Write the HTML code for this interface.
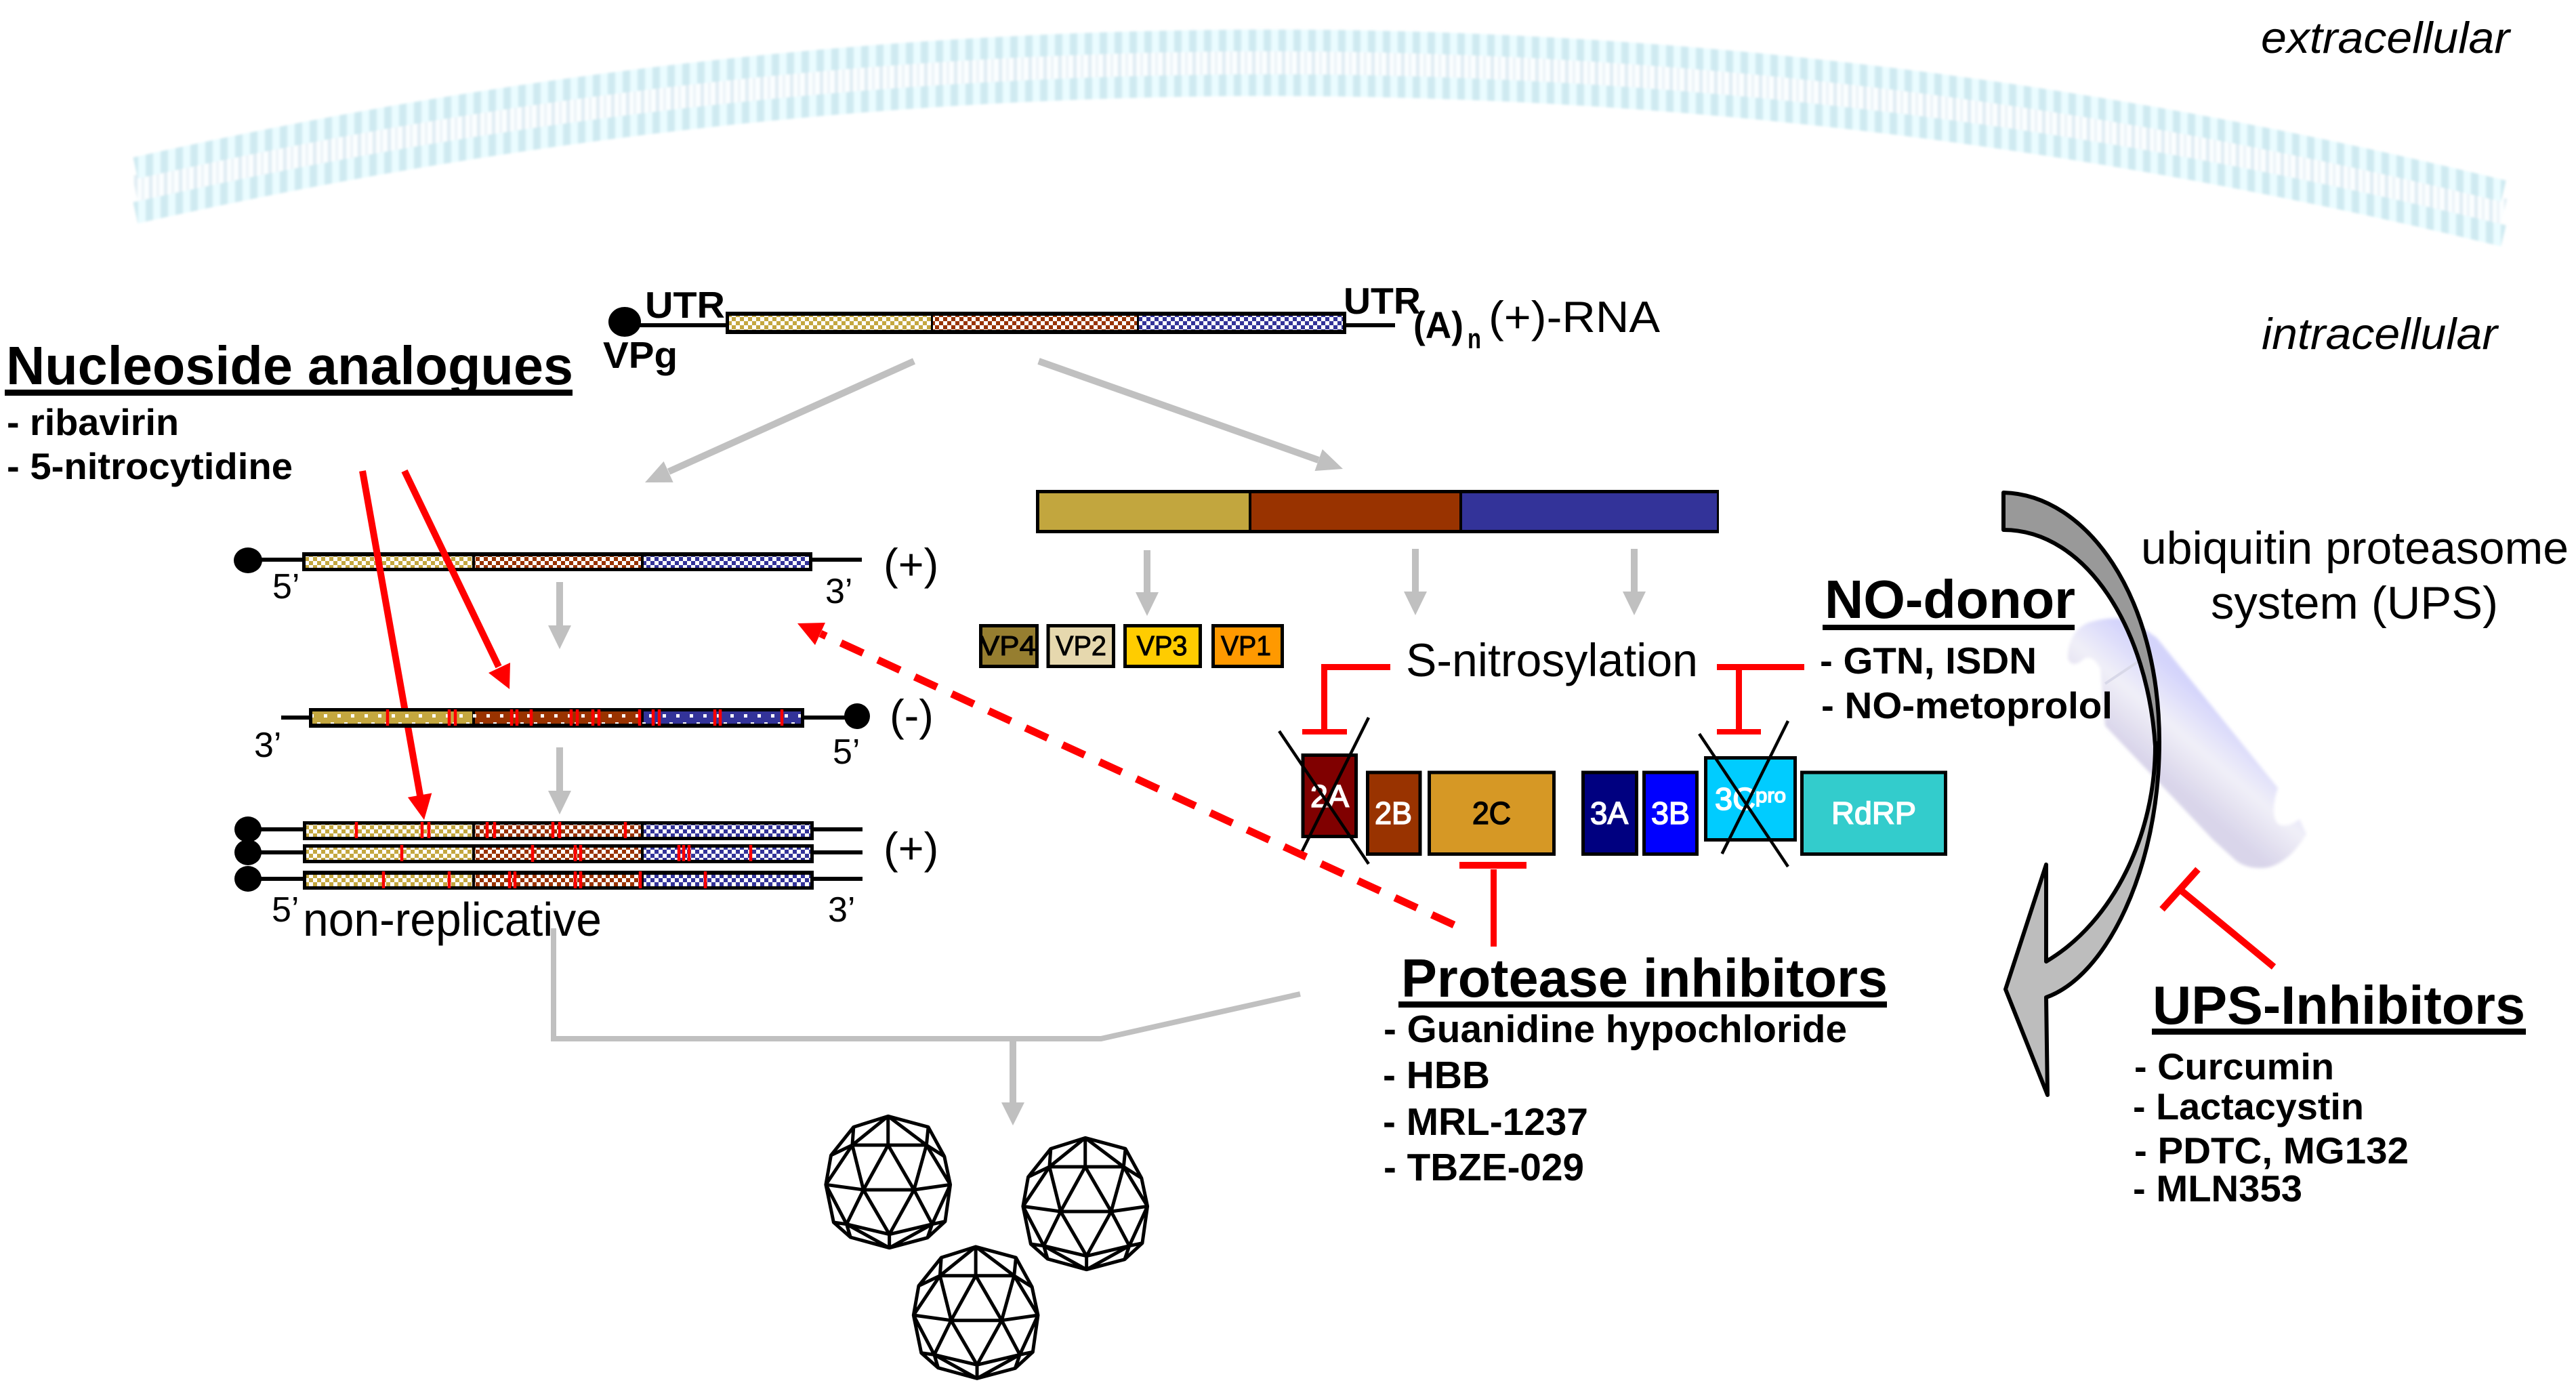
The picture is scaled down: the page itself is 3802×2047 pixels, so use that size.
<!DOCTYPE html>
<html><head><meta charset="utf-8">
<style>
html,body{margin:0;padding:0;background:#fff}
svg{display:block}
text{font-family:"Liberation Sans",Arial,sans-serif;fill:#000}
.b{font-weight:bold}
.i{font-style:italic}
.w{fill:#fff}
.m{stroke:#000;stroke-width:1}
.mw{stroke:#fff;stroke-width:1.6}
.mb{stroke:#000;stroke-width:1.6}
</style></head><body>
<svg xmlns="http://www.w3.org/2000/svg" width="3802" height="2047" viewBox="0 0 3802 2047">
<defs>
<pattern id="g" width="12" height="12" patternUnits="userSpaceOnUse"><rect width="12" height="12" fill="#fff"/><rect width="6" height="6" fill="#c4a73f"/><rect x="6" y="6" width="6" height="6" fill="#c4a73f"/></pattern>
<pattern id="r" width="12" height="12" patternUnits="userSpaceOnUse"><rect width="12" height="12" fill="#fff"/><rect width="6" height="6" fill="#993300"/><rect x="6" y="6" width="6" height="6" fill="#993300"/></pattern>
<pattern id="u" width="12" height="12" patternUnits="userSpaceOnUse"><rect width="12" height="12" fill="#fff"/><rect width="6" height="6" fill="#333399"/><rect x="6" y="6" width="6" height="6" fill="#333399"/></pattern>
<pattern id="d" x="456" y="1050" width="20" height="24" patternUnits="userSpaceOnUse"><rect x="2" y="4" width="5" height="5" fill="#fff"/><rect x="12" y="16" width="5" height="5" fill="#fff"/></pattern>
<pattern id="hd" width="22" height="400" patternUnits="userSpaceOnUse"><rect width="22" height="400" fill="#cfeaf1"/><rect x="6" width="11" height="400" fill="#eafcff"/></pattern>
<pattern id="tl" width="22" height="400" patternUnits="userSpaceOnUse"><rect width="22" height="400" fill="#fbfeff"/><rect x="0" width="5" height="400" fill="#dfecf3"/><rect x="11" width="4" height="400" fill="#ebf3f8"/></pattern>
<linearGradient id="pg" gradientUnits="userSpaceOnUse" x1="3270" y1="1040" x2="3185" y2="1140"><stop offset="0" stop-color="#d4d4fb"/><stop offset=".5" stop-color="#f0eff8"/><stop offset="1" stop-color="#d9d5ea"/></linearGradient>
<filter id="bl" x="-5%" y="-20%" width="110%" height="140%"><feGaussianBlur stdDeviation="1.8"/></filter>
<filter id="bp" x="-5%" y="-5%" width="110%" height="110%"><feGaussianBlur stdDeviation="2.5"/></filter>
<g id="ico" transform="translate(1150,1620) scale(.38270,.33333)" fill="none" stroke="#000" stroke-width="5" stroke-linejoin="round">
<path vector-effect="non-scaling-stroke" d="M420 82L575 130L637 260L660 385L640 548L572 620L425 665L275 618L210 552L180 385L200 255L287 130ZM420 82V210M420 82L282 210M420 82L568 210M282 210H568M287 130L282 210M575 130L568 210M282 210L200 255M568 210L637 260M282 210L180 385M568 210L660 385M282 210L325 408M568 210L520 408M420 210L325 408M420 210L520 408M325 408H520M180 385L325 408M660 385L520 408M180 385L260 560M660 385L590 560M325 408L260 560M520 408L590 560M325 408L425 605M520 408L425 605M260 560L425 605L590 560M425 605V665M260 560L210 552M590 560L640 548M260 560L275 618M590 560L572 620M260 560L425 665M590 560L425 665"/>
</g>
</defs>
<rect width="3802" height="2047" fill="#fff"/>

<!-- membrane -->
<g fill="none" filter="url(#bl)">
<path d="M200 281Q1947 -112 3695 315" stroke="url(#tl)" stroke-width="44"/>
<path d="M200 248Q1947 -145 3695 282" stroke="url(#hd)" stroke-width="32"/>
<path d="M200 314Q1947 -79 3695 348" stroke="url(#hd)" stroke-width="32"/>
</g>

<!-- proteasome -->
<path d="M3052 971C3052 945 3064 925 3085 918C3110 911 3135 910 3150 918L3183 941L3362 1163C3356 1180 3352 1205 3362 1216C3372 1222 3385 1216 3394 1209L3404 1231C3390 1255 3368 1278 3342 1281C3325 1282 3312 1279 3300 1270L3266 1239L3107 1071L3100 987C3094 975 3086 968 3076 972C3068 980 3056 985 3052 971Z" fill="url(#pg)" filter="url(#bp)"/>
<path d="M3107 1009L3158 975" stroke="#d8d8e8" stroke-width="4" fill="none"/>

<!-- curved arrow -->
<path d="M3181 1101C3181 1230 3120 1360 3020 1419L3020 1276L2960 1460L3022 1616L3020 1472C3110 1440 3187 1280 3187 1095Z" fill="#bdbdbd" stroke="#000" stroke-width="6" stroke-linejoin="round"/>
<path d="M2957 727C3080 730 3187 880 3187 1095L3181 1101C3170 930 3080 782 2957 782Z" fill="#999" stroke="#000" stroke-width="6" stroke-linejoin="round"/>

<!-- top RNA -->
<ellipse cx="922" cy="475" rx="24" ry="22"/>
<rect x="940" y="477" width="135" height="6"/>
<rect x="1985" y="477" width="74" height="6"/>
<rect x="1071" y="460" width="916" height="33"/>
<rect x="1076" y="466" width="298" height="21" fill="url(#g)"/>
<rect x="1377" y="466" width="301" height="21" fill="url(#r)"/>
<rect x="1681" y="466" width="301" height="21" fill="url(#u)"/>
<text class="b" x="952" y="469" font-size="55" textLength="118" lengthAdjust="spacingAndGlyphs">UTR</text>
<text class="b" x="890" y="543" font-size="55" textLength="110" lengthAdjust="spacingAndGlyphs">VPg</text>
<text class="b" x="1983" y="463" font-size="55" textLength="114" lengthAdjust="spacingAndGlyphs">UTR</text>
<text class="b" x="2086" y="499" font-size="56" textLength="74" lengthAdjust="spacingAndGlyphs">(A)</text>
<text class="b" x="2166" y="514" font-size="42" textLength="20" lengthAdjust="spacingAndGlyphs">n</text>
<text x="2197" y="490" font-size="65" textLength="253" lengthAdjust="spacingAndGlyphs">(+)-RNA</text>

<!-- grey diagonal arrows -->
<path d="M1349 533L987 696" stroke="#c0c0c0" stroke-width="10"/>
<polygon points="952,712 993.6,711.9 979.6,680.9" fill="#c0c0c0"/>
<path d="M1533 533L1946 679" stroke="#c0c0c0" stroke-width="10"/>
<polygon points="1982,692 1940.5,695 1951.8,663" fill="#c0c0c0"/>

<!-- strand 1 -->
<ellipse cx="366" cy="827" rx="21" ry="19"/>
<rect x="380" y="823" width="70" height="6"/><rect x="1195" y="823" width="77" height="6"/>
<rect x="446" y="815" width="753" height="28"/>
<rect x="451" y="821" width="246" height="17" fill="url(#g)"/>
<rect x="701" y="821" width="245" height="17" fill="url(#r)"/>
<rect x="950" y="821" width="244" height="17" fill="url(#u)"/>
<text x="402" y="883" font-size="52">5’</text>
<text x="1218" y="890" font-size="52">3’</text>
<text x="1304" y="855" font-size="65">(+)</text>

<!-- red arrows (under strand 2) -->
<path d="M535 695L620 1174" stroke="#f00" stroke-width="10"/>
<polygon points="626,1210 637.3,1170.5 601.9,1176.7" fill="#f00"/>
<path d="M597 695L736 984" stroke="#f00" stroke-width="10"/>
<polygon points="752,1017 753,978 721,993" fill="#f00"/>

<!-- strand 2 -->
<rect x="415" y="1056" width="45" height="6"/><rect x="1185" y="1056" width="65" height="6"/>
<ellipse cx="1265" cy="1057" rx="19" ry="19"/>
<rect x="456" y="1045" width="731" height="29"/>
<rect x="461" y="1050" width="236" height="18" fill="#c4a73f"/>
<rect x="701" y="1050" width="245" height="18" fill="#993300"/>
<rect x="950" y="1050" width="232" height="18" fill="#333399"/>
<rect x="461" y="1050" width="721" height="18" fill="url(#d)"/>
<g stroke="#f00" stroke-width="4.5">
<path d="M572 1047V1071M663 1047V1071M672 1047V1071M755 1047V1071M763 1047V1071M784 1047V1071M843 1047V1071M852 1047V1071M875 1047V1071M884 1047V1071M944 1047V1071M964 1047V1071M973 1047V1071M1055 1047V1071M1063 1047V1071M1154 1047V1071"/>
</g>
<text x="375" y="1117" font-size="52">3’</text>
<text x="1229" y="1127" font-size="52">5’</text>
<text x="1313" y="1078" font-size="65">(-)</text>

<!-- grey down arrows strands -->
<rect x="821" y="859" width="10" height="65" fill="#c0c0c0"/><polygon points="809,923 843,923 826,958" fill="#c0c0c0"/>
<rect x="821" y="1103" width="10" height="65" fill="#c0c0c0"/><polygon points="809,1167 843,1167 826,1202" fill="#c0c0c0"/>

<!-- strands 3 -->
<ellipse cx="366" cy="1224" rx="20" ry="19"/><ellipse cx="366" cy="1258" rx="20" ry="19"/><ellipse cx="366" cy="1297" rx="20" ry="19"/>
<rect x="380" y="1221" width="70" height="6"/><rect x="380" y="1255" width="70" height="6"/><rect x="380" y="1294" width="70" height="6"/>
<rect x="1195" y="1221" width="78" height="6"/><rect x="1195" y="1255" width="78" height="6"/><rect x="1195" y="1294" width="78" height="6"/>
<rect x="447" y="1212" width="754" height="28"/><rect x="447" y="1246" width="754" height="28"/><rect x="447" y="1285" width="754" height="28"/>
<rect x="452" y="1217" width="245" height="18" fill="url(#g)"/><rect x="701" y="1217" width="245" height="18" fill="url(#r)"/><rect x="950" y="1217" width="246" height="18" fill="url(#u)"/>
<rect x="452" y="1251" width="245" height="18" fill="url(#g)"/><rect x="701" y="1251" width="245" height="18" fill="url(#r)"/><rect x="950" y="1251" width="246" height="18" fill="url(#u)"/>
<rect x="452" y="1291" width="245" height="17" fill="url(#g)"/><rect x="701" y="1291" width="245" height="17" fill="url(#r)"/><rect x="950" y="1291" width="246" height="17" fill="url(#u)"/>
<g stroke="#f00" stroke-width="4.5">
<path d="M526 1213V1237M623 1213V1237M633 1213V1237M719 1213V1237M730 1213V1237M816 1213V1237M826 1213V1237M923 1213V1237"/>
<path d="M593 1247V1271M786 1247V1272M849 1247V1271M857 1247V1271M1002 1247V1271M1009 1247V1271M1017 1247V1271M1108 1247V1271"/>
<path d="M566 1286V1311M663 1286V1311M752 1286V1311M760 1286V1311M849 1286V1311M857 1286V1311M945 1286V1311M1041 1286V1311"/>
</g>
<text x="401" y="1360" font-size="52">5’</text>
<text x="1222" y="1360" font-size="52">3’</text>
<text x="1304" y="1274" font-size="65">(+)</text>

<!-- grey collector -->
<path d="M817 1370V1533H1625L1919 1467" fill="none" stroke="#c0c0c0" stroke-width="8"/>
<rect x="1490" y="1533" width="10" height="95" fill="#c0c0c0"/><polygon points="1478,1627 1512,1627 1495,1661" fill="#c0c0c0"/>
<text x="447" y="1381" font-size="70" textLength="441" lengthAdjust="spacingAndGlyphs">non-replicative</text>

<!-- polyprotein -->
<rect x="1531.5" y="725.5" width="1003" height="59" fill="#fff" stroke="#000" stroke-width="5"/>
<rect x="1534" y="728" width="311" height="54" fill="#c2a63e"/>
<rect x="1845" y="728" width="311" height="54" fill="#993300"/>
<rect x="2156" y="728" width="378" height="54" fill="#333399"/>
<rect x="1843" y="725" width="4" height="60"/><rect x="2154" y="725" width="4" height="60"/>

<g fill="#c0c0c0">
<rect x="1688" y="812" width="10" height="63"/><polygon points="1676,874 1710,874 1693,909"/>
<rect x="2084" y="810" width="10" height="64"/><polygon points="2072,873 2106,873 2089,908"/>
<rect x="2407" y="810" width="10" height="64"/><polygon points="2395,873 2429,873 2412,908"/>
</g>

<!-- VP boxes -->
<g stroke="#000" stroke-width="5">
<rect x="1447.5" y="923.5" width="83" height="60" fill="#967e30"/>
<rect x="1547" y="923.5" width="96.5" height="60" fill="#e6d8ae"/>
<rect x="1660.5" y="923.5" width="111" height="60" fill="#ffcc00"/>
<rect x="1790.5" y="923.5" width="102" height="60" fill="#ff9900"/>
</g>
<text x="1446" y="967" font-size="41" textLength="83" lengthAdjust="spacingAndGlyphs" class="m">VP4</text>
<text x="1558" y="967" font-size="41" textLength="75" lengthAdjust="spacingAndGlyphs" class="m">VP2</text>
<text x="1677.5" y="967" font-size="41" textLength="75" lengthAdjust="spacingAndGlyphs" class="m">VP3</text>
<text x="1802" y="967" font-size="41" textLength="74" lengthAdjust="spacingAndGlyphs" class="m">VP1</text>

<text x="2075" y="998" font-size="69" textLength="431" lengthAdjust="spacingAndGlyphs">S-nitrosylation</text>

<!-- 2A..RdRP -->
<g stroke="#000" stroke-width="5">
<rect x="1923" y="1114.5" width="78.500" height="120" fill="#800000"/>
<rect x="2018.500" y="1140" width="77.500" height="120.500" fill="#993300"/>
<rect x="2109.500" y="1140" width="184" height="120.500" fill="#d69825"/>
<rect x="2336.500" y="1140" width="79" height="120.500" fill="#000080"/>
<rect x="2426.500" y="1140" width="78" height="120.500" fill="#0000ff"/>
<rect x="2517.500" y="1118.500" width="132" height="121" fill="#00ccff"/>
<rect x="2659.500" y="1140" width="212" height="120.500" fill="#33cccc"/>
</g>
<text class="mw w" x="1934" y="1191" font-size="46" textLength="57" lengthAdjust="spacingAndGlyphs">2A</text>
<text class="mw w" x="2029" y="1216" font-size="46" textLength="55" lengthAdjust="spacingAndGlyphs">2B</text>
<text class="mb" x="2173" y="1216" font-size="46" textLength="57" lengthAdjust="spacingAndGlyphs">2C</text>
<text class="mw w" x="2347" y="1216" font-size="46" textLength="56" lengthAdjust="spacingAndGlyphs">3A</text>
<text class="mw w" x="2437" y="1216" font-size="46" textLength="57" lengthAdjust="spacingAndGlyphs">3B</text>
<text class="mw w" x="2531" y="1195" font-size="46" textLength="60" lengthAdjust="spacingAndGlyphs">3C</text>
<text class="mw w" x="2591" y="1184" font-size="30" textLength="45" lengthAdjust="spacingAndGlyphs">pro</text>
<text class="mw w" x="2703" y="1216" font-size="46" textLength="125" lengthAdjust="spacingAndGlyphs">RdRP</text>
<g stroke="#000" stroke-width="4.500">
<path d="M1888 1079L2020 1275M2020 1059L1921.500 1257M2508 1083L2639 1279M2639 1064L2541.600 1260"/>
</g>

<!-- red T bars -->
<g fill="#f00">
<rect x="1950" y="980" width="102" height="9"/><rect x="1950" y="980" width="9" height="100"/><rect x="1922" y="1076" width="66" height="8"/>
<rect x="2534" y="980" width="129" height="9"/><rect x="2562" y="985" width="9" height="95"/><rect x="2534" y="1076" width="65" height="8"/>
<rect x="2154" y="1272" width="99" height="10"/><rect x="2200" y="1283" width="9" height="114"/>
</g>
<path d="M3191 1342L3244 1283M3219 1314L3356 1427" stroke="#f00" stroke-width="10" fill="none"/>

<!-- dashed red -->
<path d="M2146 1365L1211 935" stroke="#f00" stroke-width="11" stroke-dasharray="36 24" fill="none"/>
<polygon points="1177,920 1218,919 1203,952" fill="#f00"/>

<!-- labels -->
<text class="i" x="3337" y="78" font-size="65" textLength="367" lengthAdjust="spacingAndGlyphs">extracellular</text>
<text class="i" x="3338" y="515" font-size="65" textLength="348" lengthAdjust="spacingAndGlyphs">intracellular</text>

<text class="b" x="9" y="567" font-size="80" textLength="837" lengthAdjust="spacingAndGlyphs">Nucleoside analogues</text>
<rect x="7" y="575" width="838" height="9"/>
<text class="b" x="10" y="642" font-size="55" textLength="254" lengthAdjust="spacingAndGlyphs">- ribavirin</text>
<text class="b" x="10" y="707" font-size="55" textLength="422" lengthAdjust="spacingAndGlyphs">- 5-nitrocytidine</text>

<text class="b" x="2693" y="912" font-size="80" textLength="370" lengthAdjust="spacingAndGlyphs">NO-donor</text>
<rect x="2690" y="922" width="372" height="8"/>
<text class="b" x="2686" y="994" font-size="55" textLength="320" lengthAdjust="spacingAndGlyphs">- GTN, ISDN</text>
<text class="b" x="2688" y="1060" font-size="55" textLength="430" lengthAdjust="spacingAndGlyphs">- NO-metoprolol</text>

<text x="3160" y="832" font-size="68" textLength="631" lengthAdjust="spacingAndGlyphs">ubiquitin proteasome</text>
<text x="3263" y="913" font-size="68" textLength="424" lengthAdjust="spacingAndGlyphs">system (UPS)</text>

<text class="b" x="3177" y="1511" font-size="80" textLength="550" lengthAdjust="spacingAndGlyphs">UPS-Inhibitors</text>
<rect x="3176" y="1518" width="552" height="9"/>
<text class="b" x="3150" y="1593" font-size="55" textLength="295" lengthAdjust="spacingAndGlyphs">- Curcumin</text>
<text class="b" x="3148" y="1652" font-size="55" textLength="341" lengthAdjust="spacingAndGlyphs">- Lactacystin</text>
<text class="b" x="3150" y="1717" font-size="55" textLength="405" lengthAdjust="spacingAndGlyphs">- PDTC, MG132</text>
<text class="b" x="3148" y="1773" font-size="55" textLength="250" lengthAdjust="spacingAndGlyphs">- MLN353</text>

<text class="b" x="2068" y="1471" font-size="80" textLength="718" lengthAdjust="spacingAndGlyphs">Protease inhibitors</text>
<rect x="2064" y="1478" width="721" height="9"/>
<text class="b" x="2042" y="1538" font-size="57" textLength="684" lengthAdjust="spacingAndGlyphs">- Guanidine hypochloride</text>
<text class="b" x="2041" y="1606" font-size="57" textLength="158" lengthAdjust="spacingAndGlyphs">- HBB</text>
<text class="b" x="2041" y="1675" font-size="57" textLength="303" lengthAdjust="spacingAndGlyphs">- MRL-1237</text>
<text class="b" x="2042" y="1742" font-size="57" textLength="296" lengthAdjust="spacingAndGlyphs">- TBZE-029</text>

<!-- capsids -->
<use href="#ico"/>
<use href="#ico" x="291" y="32"/>
<use href="#ico" x="129.400" y="192.700"/>
</svg>
</body></html>
